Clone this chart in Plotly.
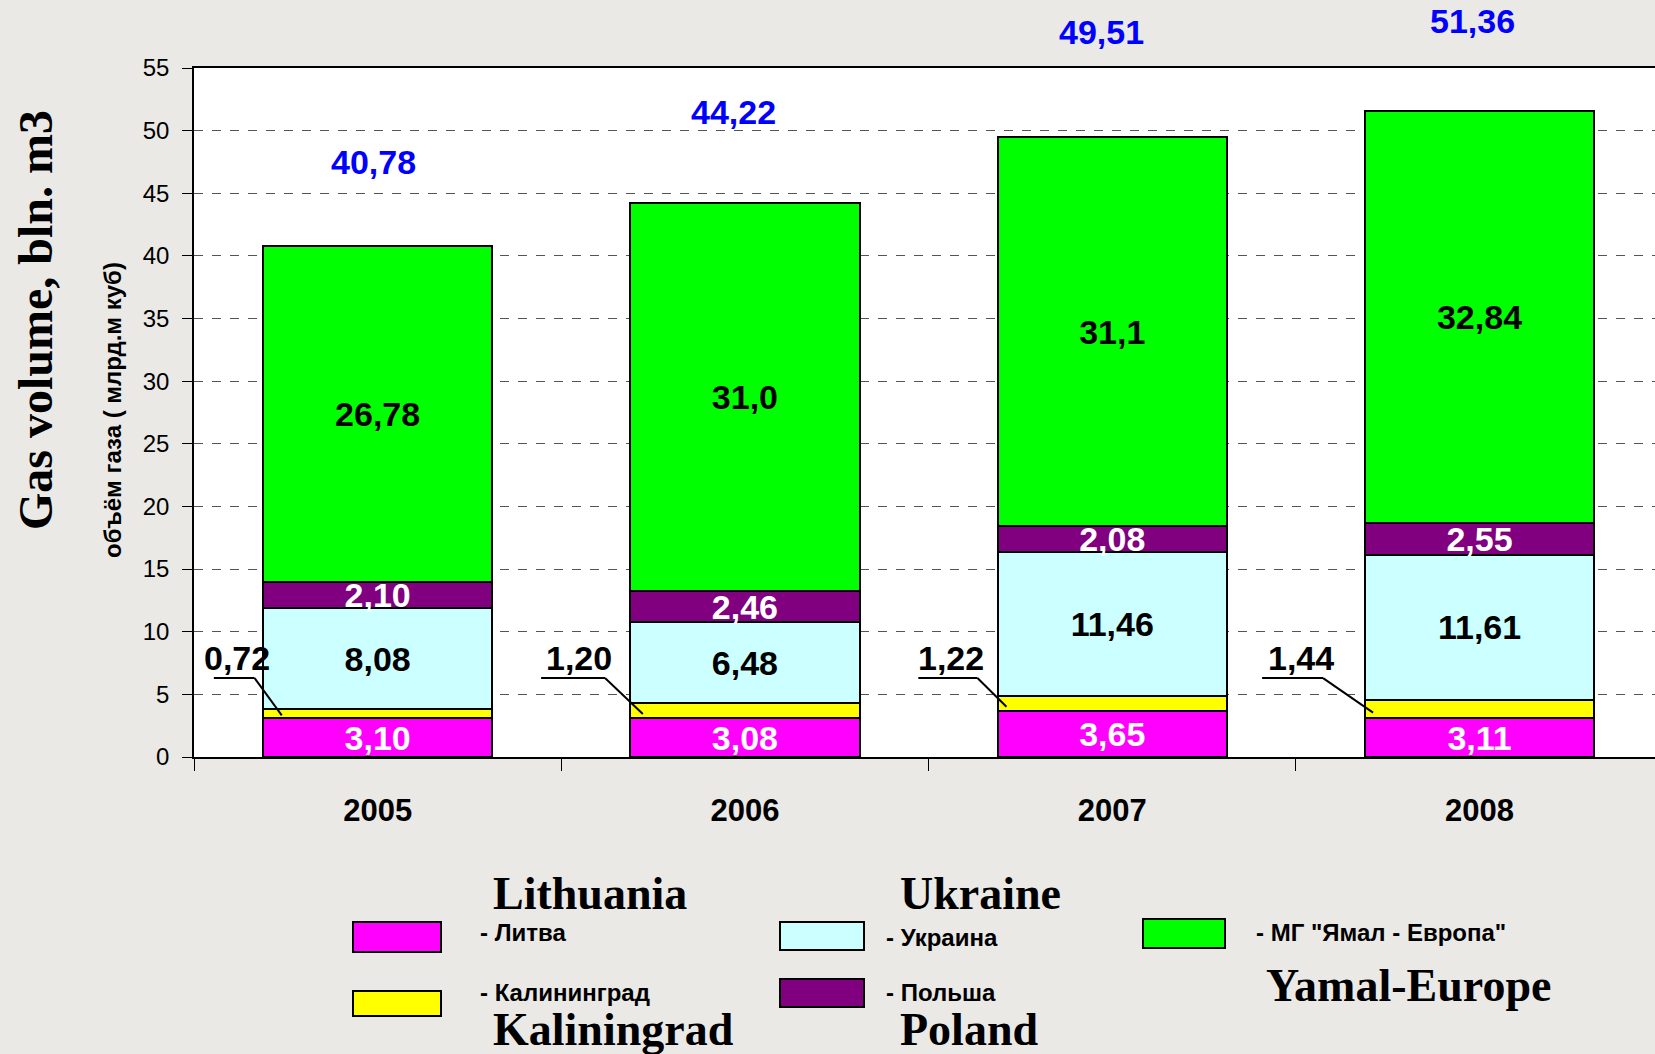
import plotly.graph_objects as go

# ---------------- data ----------------
years = ["2005", "2006", "2007", "2008"]
lithuania = [3.10, 3.08, 3.65, 3.11]
kaliningrad = [0.72, 1.20, 1.22, 1.44]
ukraine = [8.08, 6.48, 11.46, 11.61]
poland = [2.10, 2.46, 2.08, 2.55]
yamal = [26.78, 31.0, 31.1, 32.84]
yamal_text = ["26,78", "31,0", "31,1", "32,84"]
totals = [40.78, 44.22, 49.51, 51.36]

# ---------------- style ----------------
W_FIG, H_FIG = 1655, 1054
L, R_EDGE, T, B = 194, 1655, 68, 757
PW, PH = R_EDGE - L, B - T
Y_MAX = 55
BG = "#EAE9E6"
ARIAL = "Liberation Sans, Arial, sans-serif"
TIMES = "Liberation Serif, Times New Roman, serif"
BAR_W = 0.624
LBL = 34

def fmt(v):
    return f"{v:.2f}".replace(".", ",")

def pxx(x):
    return (x - L) / PW

def pxy(y):
    return (B - y) / PH

fig = go.Figure()

series = [
    ("- Литва", lithuania, "#FF00FF", [fmt(v) for v in lithuania], "white"),
    ("- Калининград", kaliningrad, "#FFFF00", None, "black"),
    ("- Украина", ukraine, "#CCFFFF", [fmt(v) for v in ukraine], "black"),
    ("- Польша", poland, "#800080", [fmt(v) for v in poland], "white"),
    ('- МГ "Ямал - Европа"', yamal, "#00FF00", yamal_text, "black"),
]
for name, vals, col, txt, tcol in series:
    fig.add_trace(go.Bar(
        x=years, y=vals, name=name, width=BAR_W,
        marker=dict(color=col, line=dict(color="black", width=2)),
        text=txt, textposition="inside" if txt else "none",
        insidetextanchor="middle", textangle=0, constraintext="none",
        textfont=dict(family=ARIAL, size=LBL, color=tcol, weight="bold"),
        showlegend=False, hoverinfo="name+y",
    ))

# totals above bars (y in the y-axis scale, placed in paper space so they may sit above the plot)
total_dx = [-0.01, -0.03, -0.03, -0.02]
total_dy = [6.7, 7.3, 8.4, 7.4]
for i, t in enumerate(totals):
    fig.add_annotation(x=i + total_dx[i], y=(t + total_dy[i]) / Y_MAX, xref="x", yref="paper",
                       xanchor="center", yanchor="middle",
                       text=fmt(t), showarrow=False,
                       font=dict(family=ARIAL, size=LBL, color="#0000FF", weight="bold"))

# Kaliningrad labels with leader lines
lab_dx = [-0.384, -0.453, -0.438, -0.486]
lead_x0 = [-0.446, -0.555, -0.528, -0.592]
lead_x1 = [-0.335, -0.381, -0.367, -0.426]
lead_x2 = [-0.261, -0.278, -0.288, -0.290]
lab_y, lead_y = 7.9, 6.3
for i, k in enumerate(kaliningrad):
    fig.add_annotation(x=i + lab_dx[i], y=lab_y, xref="x", yref="y", text=fmt(k),
                       xanchor="center", yanchor="middle", showarrow=False,
                       font=dict(family=ARIAL, size=LBL, color="black", weight="bold"))
    yend = lithuania[i] + k * 0.3
    fig.add_shape(type="line", xref="x", yref="y", x0=i + lead_x0[i], x1=i + lead_x1[i],
                  y0=lead_y, y1=lead_y, line=dict(color="black", width=2))
    fig.add_shape(type="line", xref="x", yref="y", x0=i + lead_x1[i], x1=i + lead_x2[i],
                  y0=lead_y, y1=yend, line=dict(color="black", width=2))

# y axis titles
fig.add_annotation(x=pxx(35), y=pxy(320), xref="paper", yref="paper", text="Gas volume, bln. m3",
                   xanchor="center", yanchor="middle", textangle=-90, showarrow=False,
                   font=dict(family=TIMES, size=48, color="black", weight="bold"))
fig.add_annotation(x=pxx(112), y=pxy(410), xref="paper", yref="paper", text="объём газа ( млрд.м куб)",
                   xanchor="center", yanchor="middle", textangle=-90, showarrow=False,
                   font=dict(family=ARIAL, size=24, color="black", weight="bold"))

# custom legend
legend_items = [
    ("#FF00FF", (353, 922, 441, 952), "- Литва", (478, 932)),
    ("#FFFF00", (353, 991, 441, 1016), "- Калининград", (478, 992)),
    ("#CCFFFF", (780, 922, 864, 950), "- Украина", (884, 937)),
    ("#800080", (780, 979, 864, 1007), "- Польша", (884, 992)),
    ("#00FF00", (1143, 919, 1225, 948), '- МГ "Ямал - Европа"', (1254, 932)),
]
for col, (x0, y0, x1, y1), txt, (tx, ty) in legend_items:
    fig.add_shape(type="rect", xref="paper", yref="paper",
                  x0=pxx(x0), x1=pxx(x1), y0=pxy(y1), y1=pxy(y0),
                  fillcolor=col, line=dict(color="black", width=2))
    fig.add_annotation(x=pxx(tx), y=pxy(ty), xref="paper", yref="paper", text=txt,
                       xanchor="left", yanchor="middle", showarrow=False,
                       font=dict(family=ARIAL, size=24, color="black", weight="bold"))

english = [("Lithuania", 491, 893), ("Ukraine", 898, 893), ("Kaliningrad", 491, 1029),
           ("Poland", 898, 1029), ("Yamal-Europe", 1264, 985)]
for txt, tx, ty in english:
    fig.add_annotation(x=pxx(tx), y=pxy(ty), xref="paper", yref="paper", text=txt,
                       xanchor="left", yanchor="middle", showarrow=False,
                       font=dict(family=TIMES, size=46, color="black", weight="bold"))

fig.update_layout(
    width=W_FIG, height=H_FIG, barmode="stack",
    margin=dict(l=L, r=W_FIG - R_EDGE, t=T, b=H_FIG - B, autoexpand=False),
    paper_bgcolor=BG, plot_bgcolor="white", showlegend=False,
    xaxis=dict(type="category", range=[-0.5, -0.5 + PW / 367.3],
               showline=True, linecolor="black", linewidth=1.5, mirror=True,
               ticks="outside", tickson="boundaries", ticklen=12, tickcolor="black",
               tickfont=dict(family=ARIAL, size=31, color="black", weight="bold"),
               ticklabelstandoff=25, showgrid=False),
    yaxis=dict(range=[0, Y_MAX], dtick=5, showline=True, linecolor="black", linewidth=1.5,
               ticks="outside", ticklen=10, tickcolor="black",
               tickfont=dict(family=ARIAL, size=24, color="black"),
               ticklabelstandoff=8,
               showgrid=True, gridcolor="#555555", griddash="dash", gridwidth=1,
               zeroline=False),
)

fig.write_html("out.html", config={"displayModeBar": False},
               post_script="document.body.style.margin='0';document.body.style.overflow='hidden';")
